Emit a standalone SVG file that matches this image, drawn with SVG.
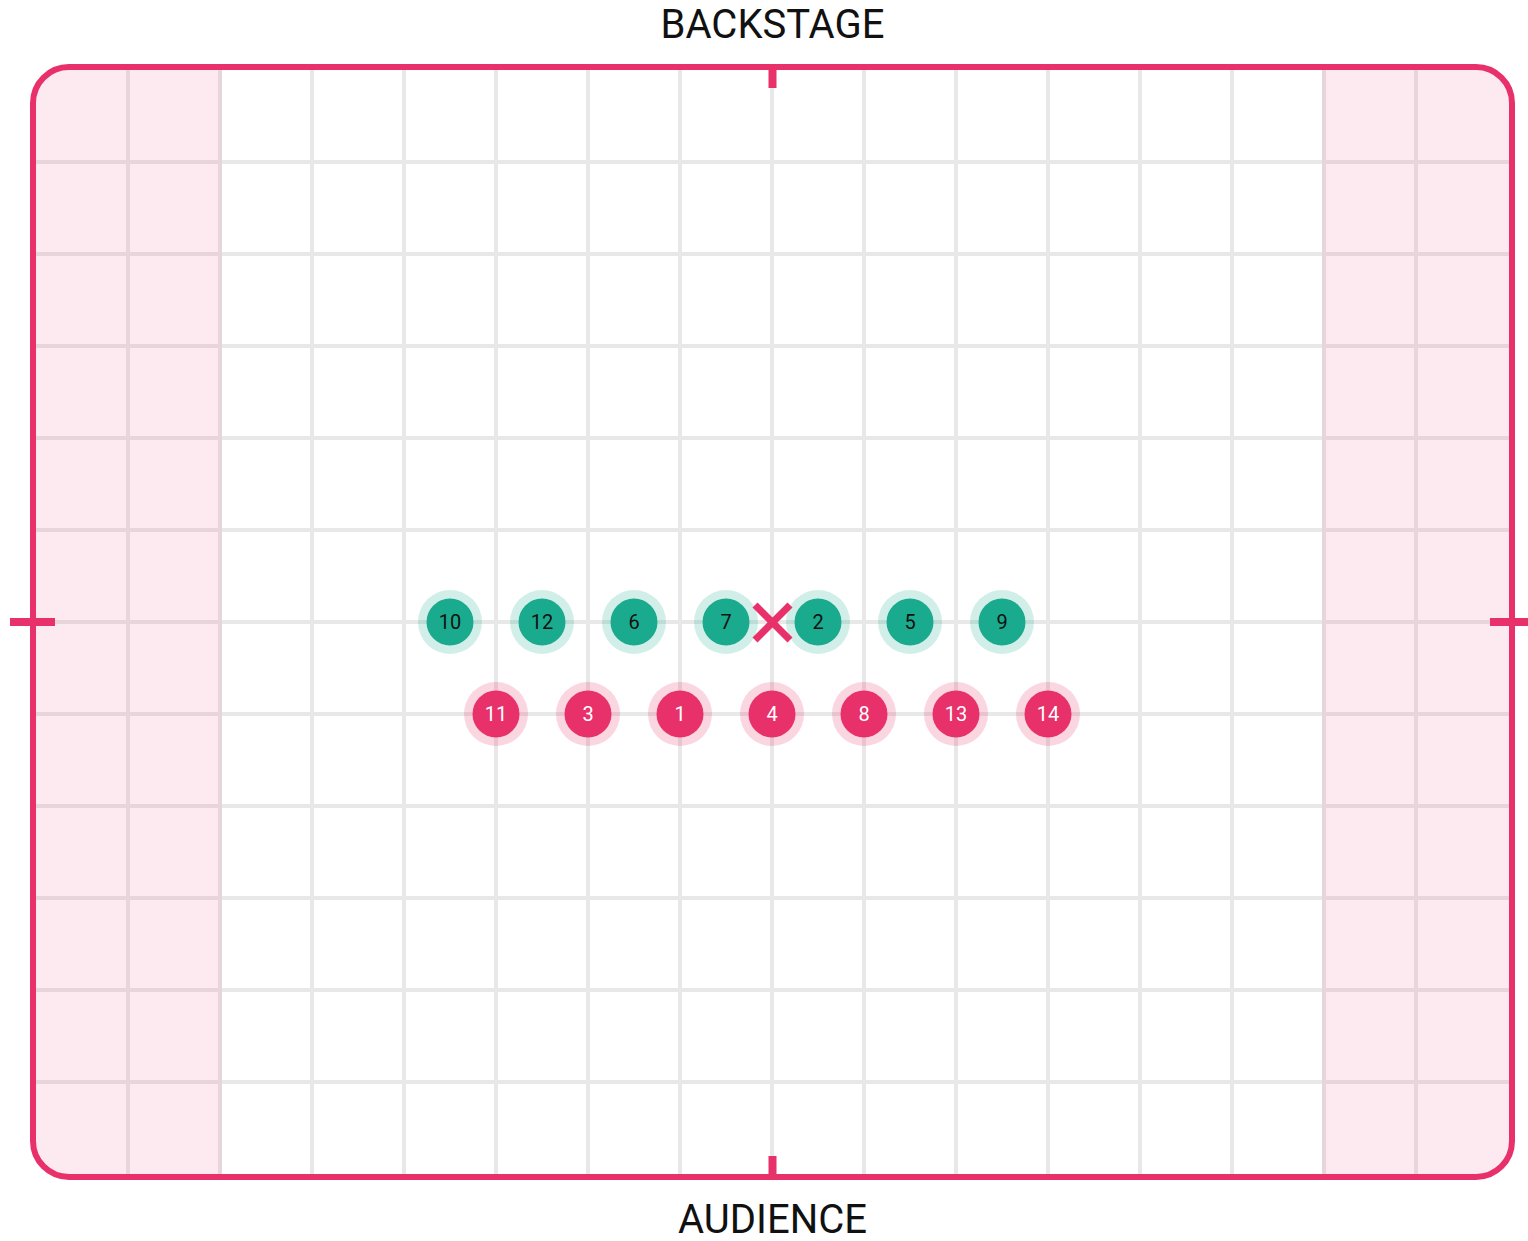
<svg xmlns="http://www.w3.org/2000/svg" width="1528" height="1241" viewBox="0 0 1528 1241">
<style>
.grid line{stroke:#e8e8e8;stroke-width:4}
.lbl{font-family:Roboto,"Liberation Sans",sans-serif;font-size:40px;fill:#111;text-anchor:middle}
.halo-g{fill:#1aab8e;fill-opacity:0.2}
.dot-g{fill:#1aab8e}
.halo-p{fill:#e8306a;fill-opacity:0.2}
.dot-p{fill:#e8306a}
.node text{font-family:Roboto,"Liberation Sans",sans-serif;font-size:20px;text-anchor:middle;dominant-baseline:central}
.g text{fill:#111}
.p text{fill:#fff}
.tick{fill:#e8306a}
.wing{fill:#e8306a;fill-opacity:0.1}
</style>
<rect width="1528" height="1241" fill="#fff"/>
<text class="lbl" x="772.5" y="38">BACKSTAGE</text>
<text class="lbl" x="772.5" y="1233">AUDIENCE</text>
<g class="grid">
<line x1="128" y1="70" x2="128" y2="1174"/><line x1="220" y1="70" x2="220" y2="1174"/><line x1="312" y1="70" x2="312" y2="1174"/><line x1="404" y1="70" x2="404" y2="1174"/><line x1="496" y1="70" x2="496" y2="1174"/><line x1="588" y1="70" x2="588" y2="1174"/><line x1="680" y1="70" x2="680" y2="1174"/><line x1="772" y1="70" x2="772" y2="1174"/><line x1="864" y1="70" x2="864" y2="1174"/><line x1="956" y1="70" x2="956" y2="1174"/><line x1="1048" y1="70" x2="1048" y2="1174"/><line x1="1140" y1="70" x2="1140" y2="1174"/><line x1="1232" y1="70" x2="1232" y2="1174"/><line x1="1324" y1="70" x2="1324" y2="1174"/><line x1="1416" y1="70" x2="1416" y2="1174"/>
<line x1="36" y1="162" x2="1509" y2="162"/><line x1="36" y1="254" x2="1509" y2="254"/><line x1="36" y1="346" x2="1509" y2="346"/><line x1="36" y1="438" x2="1509" y2="438"/><line x1="36" y1="530" x2="1509" y2="530"/><line x1="36" y1="622" x2="1509" y2="622"/><line x1="36" y1="714" x2="1509" y2="714"/><line x1="36" y1="806" x2="1509" y2="806"/><line x1="36" y1="898" x2="1509" y2="898"/><line x1="36" y1="990" x2="1509" y2="990"/><line x1="36" y1="1082" x2="1509" y2="1082"/>
</g>
<g id="wings">
<path class="wing" d="M222 67 H69 A36 36 0 0 0 33 103 V1141 A36 36 0 0 0 69 1177 H222 Z"/>
<path class="wing" d="M1322 67 H1476 A36 36 0 0 1 1512 103 V1141 A36 36 0 0 1 1476 1177 H1322 Z"/>
</g>
<g id="stage-border">
<rect x="33" y="67" width="1479" height="1110" rx="36" fill="none" stroke="#e8306a" stroke-width="6"/>
<rect class="tick" x="768.5" y="67" width="8" height="21"/>
<rect class="tick" x="768.5" y="1156" width="8" height="21"/>
<rect class="tick" x="10" y="618" width="45" height="8"/>
<rect class="tick" x="1490" y="618" width="38" height="8"/>
</g>
<g id="n10" class="node g" transform="translate(450,622)"><circle class="halo-g" r="32"/><circle class="dot-g" r="23.5"/><text>10</text></g>
<g id="n12" class="node g" transform="translate(542,622)"><circle class="halo-g" r="32"/><circle class="dot-g" r="23.5"/><text>12</text></g>
<g id="n6" class="node g" transform="translate(634,622)"><circle class="halo-g" r="32"/><circle class="dot-g" r="23.5"/><text>6</text></g>
<g id="n7" class="node g" transform="translate(726,622)"><circle class="halo-g" r="32"/><circle class="dot-g" r="23.5"/><text>7</text></g>
<g id="n2" class="node g" transform="translate(818,622)"><circle class="halo-g" r="32"/><circle class="dot-g" r="23.5"/><text>2</text></g>
<g id="n5" class="node g" transform="translate(910,622)"><circle class="halo-g" r="32"/><circle class="dot-g" r="23.5"/><text>5</text></g>
<g id="n9" class="node g" transform="translate(1002,622)"><circle class="halo-g" r="32"/><circle class="dot-g" r="23.5"/><text>9</text></g>
<g id="n11" class="node p" transform="translate(496,714)"><circle class="halo-p" r="32"/><circle class="dot-p" r="23.5"/><text>11</text></g>
<g id="n3" class="node p" transform="translate(588,714)"><circle class="halo-p" r="32"/><circle class="dot-p" r="23.5"/><text>3</text></g>
<g id="n1" class="node p" transform="translate(680,714)"><circle class="halo-p" r="32"/><circle class="dot-p" r="23.5"/><text>1</text></g>
<g id="n4" class="node p" transform="translate(772,714)"><circle class="halo-p" r="32"/><circle class="dot-p" r="23.5"/><text>4</text></g>
<g id="n8" class="node p" transform="translate(864,714)"><circle class="halo-p" r="32"/><circle class="dot-p" r="23.5"/><text>8</text></g>
<g id="n13" class="node p" transform="translate(956,714)"><circle class="halo-p" r="32"/><circle class="dot-p" r="23.5"/><text>13</text></g>
<g id="n14" class="node p" transform="translate(1048,714)"><circle class="halo-p" r="32"/><circle class="dot-p" r="23.5"/><text>14</text></g>
<g id="center-mark" stroke="#e8306a" stroke-width="7">
<line x1="755" y1="605" x2="790" y2="640"/><line x1="790" y1="605" x2="755" y2="640"/>
</g>
<g id="connectors"></g>
</svg>
